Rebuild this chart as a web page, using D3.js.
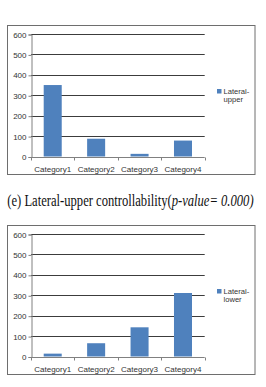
<!DOCTYPE html>
<html><head><meta charset="utf-8">
<script src="https://cdn.jsdelivr.net/npm/d3@7"></script>
<style>
html,body{margin:0;padding:0;background:#fff;}
svg{display:block;}
</style></head>
<body>
<script>
const categories = ["Category1","Category2","Category3","Category4"];
const upperValues = [350, 87, 13, 78];
const lowerValues = [14, 65, 143, 311];
const yTicks = [0,100,200,300,400,500,600];
const seriesNames = ["Lateral-upper","Lateral-lower"];
const legendLines = [["Lateral-","upper"],["Lateral-","lower"]];
const captionNormal = "(e) Lateral-upper controllability(";
const captionItalic = "p-value= 0.000)";

const W = 266, H = 387;
const sans = "'Liberation Sans', Arial, sans-serif";
const serif = "'Liberation Serif', 'Times New Roman', serif";
const svg = d3.select("body").append("svg").attr("width", W).attr("height", H);

function drawChart(top, values, legend) {
  const g = svg.append("g").attr("transform", `translate(0,${top})`);
  g.append("rect").attr("x", 7.5).attr("y", 0.5).attr("width", 247.5).attr("height", 149)
    .attr("fill", "#fff").attr("stroke", "#6e6e6e").attr("stroke-width", 1);
  const x0 = 31, x1 = 204.7, yTop = 9, yBot = 131.5;
  const x = d3.scaleBand().domain(categories).range([x0, x1]).paddingInner(0.585).paddingOuter(0.2925);
  const y = d3.scaleLinear().domain([0, 600]).range([yBot, yTop]);
  g.append("g").selectAll("line").data(yTicks.filter(d => d > 0)).join("line")
    .attr("x1", x0).attr("x2", x1)
    .attr("y1", d => Math.round(y(d)) + 0.5).attr("y2", d => Math.round(y(d)) + 0.5)
    .attr("stroke", "#3c3c3c").attr("stroke-width", 1);
  const ya = g.append("g").attr("transform", `translate(${x0 + 0.5},0.5)`)
    .call(d3.axisLeft(y).tickValues(yTicks).tickSize(3).tickPadding(2).tickFormat(d3.format("d")));
  ya.select(".domain").attr("stroke", "#808080");
  ya.selectAll(".tick line").attr("stroke", "#808080");
  ya.selectAll(".tick text").attr("font-family", sans)
    .attr("font-size", 8).attr("fill", "#333");
  g.append("g").selectAll("rect").data(values).join("rect")
    .attr("x", (d, i) => x(categories[i]))
    .attr("width", x.bandwidth())
    .attr("y", d => y(d))
    .attr("height", d => yBot - y(d))
    .attr("fill", "#4F81BD");
  const xa = g.append("g").attr("transform", `translate(0,${Math.round(yBot) + 0.5})`);
  xa.append("line").attr("x1", x0).attr("x2", x1).attr("stroke", "#808080");
  const step = x.step();
  xa.selectAll("line.tk").data(d3.range(categories.length + 1)).join("line").attr("class", "tk")
    .attr("x1", i => Math.round(x0 + i * step) + 0.5).attr("x2", i => Math.round(x0 + i * step) + 0.5)
    .attr("y1", 0).attr("y2", 3).attr("stroke", "#808080");
  xa.selectAll("text").data(categories).join("text")
    .attr("x", d => x(d) + x.bandwidth() / 2).attr("y", 14)
    .attr("text-anchor", "middle")
    .attr("font-family", sans).attr("font-size", 8).attr("fill", "#333")
    .text(d => d);
  const lg = g.append("g");
  lg.append("rect").attr("x", 217).attr("y", 64).attr("width", 4.5).attr("height", 4.5).attr("fill", "#4F81BD");
  lg.selectAll("text").data(legend).join("text")
    .attr("x", 223.5).attr("y", (d, i) => 69 + i * 8)
    .attr("font-family", sans).attr("font-size", 7.6).attr("fill", "#333")
    .text(d => d);
}

drawChart(25, upperValues, legendLines[0]);
drawChart(225, lowerValues, legendLines[1]);

const capG = svg.append("g").attr("transform", "translate(7.3,206)");
const cap = capG.append("text").attr("x", 0).attr("y", 0)
  .attr("font-family", serif).attr("font-size", 16).attr("fill", "#111");
cap.append("tspan").text(captionNormal);
cap.append("tspan").attr("font-style", "italic").text(captionItalic);
const capLen = cap.node().getComputedTextLength();
cap.attr("transform", `scale(${246.5 / capLen},1)`);
</script>
</body></html>
